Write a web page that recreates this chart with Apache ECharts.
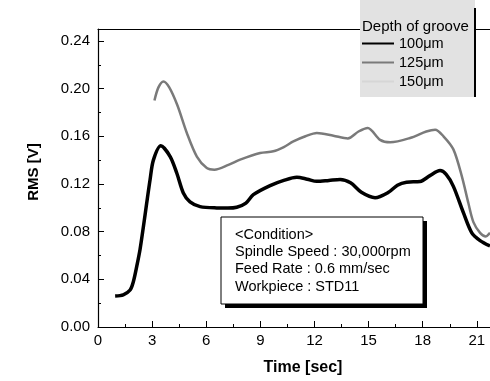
<!DOCTYPE html>
<html>
<head>
<meta charset="utf-8">
<script src="https://cdn.jsdelivr.net/npm/echarts@6/dist/echarts.min.js"></script>
<style>
html,body{margin:0;padding:0;background:#fff;}
#c{width:490px;height:381px;}
</style>
</head>
<body>
<div id="c"></div>
<script>
// ---- data ----
const seriesNames = ['100\u03bcm', '125\u03bcm', '150\u03bcm'];
const t100 = [0.95, 1.4, 1.78, 1.96, 2.15, 2.33, 2.52, 2.70, 2.89, 3.07, 3.48, 4.0, 4.37, 4.73, 5.1, 5.66, 6.58, 7.2, 7.69, 8.2, 8.61, 9.54, 10.3, 11.02, 11.6, 12.13, 12.8, 13.42, 14.0, 14.6, 15.36, 16.1, 16.6, 17.1, 17.85, 18.4, 18.96, 19.3, 19.7, 20.26, 20.72, 21.18, 21.73];
const v100 = [0.026, 0.027, 0.031, 0.038, 0.051, 0.065, 0.0845, 0.104, 0.124, 0.140, 0.152, 0.143, 0.129, 0.1125, 0.105, 0.101, 0.0999, 0.0998, 0.1005, 0.104, 0.111, 0.1186, 0.123, 0.1256, 0.124, 0.1222, 0.123, 0.1238, 0.121, 0.113, 0.1085, 0.113, 0.119, 0.1215, 0.122, 0.127, 0.1312, 0.128, 0.118, 0.0957, 0.079, 0.0725, 0.068];
const t125 = [3.13, 3.35, 3.63, 3.95, 4.4, 4.92, 5.48, 6.03, 6.45, 7.23, 7.88, 8.99, 9.72, 10.3, 10.83, 11.5, 12.13, 13.05, 13.85, 14.44, 14.95, 15.64, 16.2, 17.3, 18.2, 18.69, 19.15, 19.7, 20.17, 20.53, 20.81, 21.18, 21.5, 21.73];
const v125 = [0.190, 0.201, 0.206, 0.201, 0.186, 0.163, 0.143, 0.1334, 0.132, 0.136, 0.1404, 0.146, 0.1474, 0.151, 0.1557, 0.160, 0.1628, 0.1605, 0.1582, 0.164, 0.167, 0.157, 0.155, 0.1586, 0.164, 0.1655, 0.160, 0.149, 0.1264, 0.104, 0.088, 0.079, 0.076, 0.079];
const t150 = [];
const v150 = [];
const conditionLines = ['<Condition>', 'Spindle Speed : 30,000rpm', 'Feed Rate : 0.6 mm/sec', 'Workpiece : STD11'];
const legendTitle = 'Depth of groove';
const xName = 'Time [sec]';
const yName = 'RMS [V]';

const pairs = (t, v) => t.map((x, i) => [x, v[i]]);
const FONT = '"Liberation Sans", Arial, sans-serif';

const chart = echarts.init(document.getElementById('c'), null, {renderer: 'canvas'});
chart.setOption({
  animation: false,
  backgroundColor: '#fff',
  grid: {left: 98, right: 0, top: 29, bottom: 53.5},
  legend: {
    orient: 'vertical', left: 361, top: 36, padding: 0,
    itemWidth: 32, itemHeight: 14, itemGap: 4,
    data: seriesNames,
    itemStyle: {opacity: 0},
    textStyle: {fontFamily: FONT, fontSize: 14.5, color: '#000'},
    z: 6
  },
  xAxis: [{
    type: 'value', min: 0, max: 21.73, interval: 3,
    name: xName, nameLocation: 'middle', nameGap: 33,
    nameTextStyle: {fontFamily: FONT, fontSize: 16, fontWeight: 'bold', color: '#000', padding: [0, 0, 0, 18]},
    axisLine: {lineStyle: {color: '#000', width: 1.2}},
    axisTick: {inside: true, length: 6, lineStyle: {color: '#000'}},
    minorTick: {show: true, splitNumber: 2, length: 3, lineStyle: {color: '#000'}},
    axisLabel: {fontFamily: FONT, fontSize: 15, color: '#000', margin: 6, showMaxLabel: false},
    splitLine: {show: false}
  }, {
    type: 'value', position: 'top', min: 0, max: 21.73,
    axisLine: {show: true, onZero: false, lineStyle: {color: '#000', width: 1.2}},
    axisTick: {show: false}, axisLabel: {show: false}, splitLine: {show: false}
  }],
  yAxis: {
    type: 'value', min: 0, max: 0.25, interval: 0.04,
    name: yName, nameLocation: 'middle', nameGap: 57,
    nameTextStyle: {fontFamily: FONT, fontSize: 15, fontWeight: 'bold', color: '#000', padding: [0, 0, 0, 12]},
    axisLine: {show: true, lineStyle: {color: '#000', width: 1.2}},
    axisTick: {inside: true, length: 6, lineStyle: {color: '#000'}},
    minorTick: {show: true, splitNumber: 2, length: 3, lineStyle: {color: '#000'}},
    axisLabel: {fontFamily: FONT, fontSize: 15, color: '#000', margin: 8, showMaxLabel: false,
      formatter: v => v.toFixed(2)},
    splitLine: {show: false}
  },
  series: [
    {name: seriesNames[0], type: 'line', smooth: 0.3, symbol: 'none', data: pairs(t100, v100),
     lineStyle: {color: '#000', width: 3.5}, itemStyle: {color: '#000'}, z: 3},
    {name: seriesNames[1], type: 'line', smooth: 0.3, symbol: 'none', data: pairs(t125, v125),
     lineStyle: {color: '#7a7a7a', width: 2.5}, itemStyle: {color: '#7a7a7a'}, z: 3},
    {name: seriesNames[2], type: 'line', smooth: 0.3, symbol: 'none', data: pairs(t150, v150),
     lineStyle: {color: '#d6d6d6', width: 2}, itemStyle: {color: '#d6d6d6'}, z: 3}
  ],
  graphic: [
    {type: 'rect', z: 4, shape: {x: 360, y: 0, width: 115, height: 97}, style: {fill: '#e2e2e2'}},
    {type: 'line', z: 5, shape: {x1: 475, y1: 8, x2: 475, y2: 97}, style: {stroke: '#000', lineWidth: 2}},
    {type: 'text', z: 6, left: 362, top: 19, style: {text: legendTitle, fontFamily: FONT, fontSize: 15, fill: '#000'}},
    {type: 'rect', z: 4, shape: {x: 225, y: 221, width: 202, height: 87}, style: {fill: '#000'}},
    {type: 'rect', z: 5, shape: {x: 221, y: 217, width: 202, height: 87}, style: {fill: '#fff', stroke: '#000', lineWidth: 1}},
    {type: 'text', z: 6, left: 235, top: 226, style: {text: conditionLines.join('\n'), lineHeight: 17.3, fontFamily: FONT, fontSize: 14.5, fill: '#000'}}
  ]
});
</script>
</body>
</html>
